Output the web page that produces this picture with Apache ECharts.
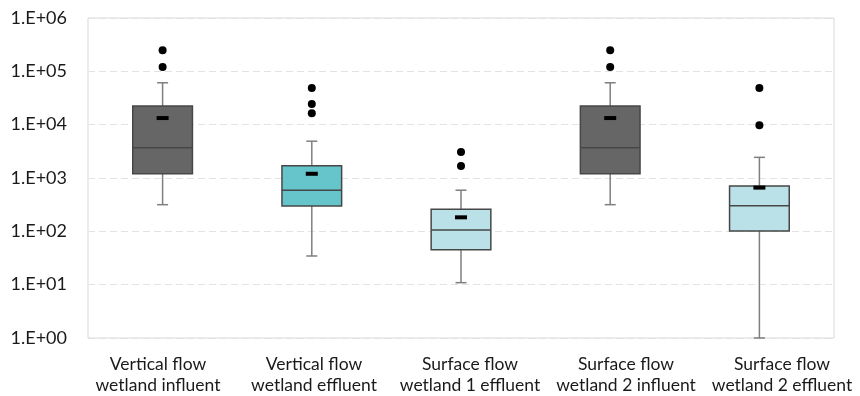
<!DOCTYPE html>
<html>
<head>
<meta charset="utf-8">
<script src="https://cdn.jsdelivr.net/npm/echarts@6/dist/echarts.min.js"></script>
<style>
html,body{margin:0;padding:0;background:#fff;}
#chart{width:860px;height:396px;}
</style>
</head>
<body>
<div id="chart"></div>
<script>
const categories = [
  "Vertical flow\nwetland influent",
  "Vertical flow\nwetland effluent",
  "Surface flow\nwetland 1 effluent",
  "Surface flow\nwetland 2 influent",
  "Surface flow\nwetland 2 effluent"
];
const whiskerLow  = [316, 34.5, 10.9, 316, 1];
const quartile1   = [1200, 300, 45, 1200, 101];
const medians     = [3700, 590, 106, 3700, 303];
const quartile3   = [22400, 1700, 259, 22400, 708];
const whiskerHigh = [61000, 4900, 590, 61000, 2440];
const means       = [13300, 1200, 183, 13300, 660];
const outliers    = [
  [0, 248000], [0, 120000],
  [1, 48700], [1, 24400], [1, 16300],
  [2, 3070], [2, 1680],
  [3, 248000], [3, 120000],
  [4, 48700], [4, 9700]
];
const boxColors = ["#666666", "#66C4CB", "#BAE1E7", "#666666", "#BAE1E7"];

const boxData = categories.map((c, i) => [i, whiskerLow[i], quartile1[i], medians[i], quartile3[i], whiskerHigh[i]]);

const chart = echarts.init(document.getElementById('chart'));
const FONT = 'Lato';
chart.setOption({
  animation: false,
  backgroundColor: '#ffffff',
  grid: [
    { left: 88, right: 26, top: 18, bottom: 58, show: true, borderColor: '#d9d9d9', borderWidth: 1 },
    { left: 80, right: -7, top: 18, bottom: 58, show: false }
  ],
  xAxis: [
    {
      type: 'category',
      gridIndex: 0,
      data: categories,
      axisLine: { show: false },
      axisTick: { show: false },
      axisLabel: { show: false },
      splitLine: { show: false }
    },
    {
      type: 'category',
      gridIndex: 1,
      data: categories,
      axisLine: { show: false },
      axisTick: { show: false },
      axisLabel: { fontFamily: FONT, fontSize: 17.5, color: '#1a1a1a', lineHeight: 21, margin: 16, interval: 0 },
      splitLine: { show: false }
    }
  ],
  yAxis: [
    {
      type: 'log',
      gridIndex: 0,
      logBase: 10,
      min: 1,
      max: 1000000,
      axisLine: { show: false },
      axisTick: { show: false },
      axisLabel: {
        fontFamily: FONT, fontSize: 18, color: '#1a1a1a', margin: 21,
        formatter: v => {
          const e = Math.round(Math.log10(v));
          return '1.E+' + (e < 10 ? '0' + e : e);
        }
      },
      splitLine: { show: true, lineStyle: { color: '#e3e3e3', type: [7, 4], width: 1 } }
    },
    {
      type: 'value',
      gridIndex: 1,
      show: false,
      splitLine: { show: false }
    }
  ],
  series: [
    {
      type: 'custom',
      xAxisIndex: 0,
      yAxisIndex: 0,
      data: boxData,
      renderItem: function (params, api) {
        const i = api.value(0);
        const pLow = api.coord([i, api.value(1)]);
        const pQ1 = api.coord([i, api.value(2)]);
        const pMed = api.coord([i, api.value(3)]);
        const pQ3 = api.coord([i, api.value(4)]);
        const pHigh = api.coord([i, api.value(5)]);
        const bw = api.size([1, 0])[0] * 0.4;
        const cap = 11;
        const x = pQ1[0];
        const whiskerStyle = { stroke: '#7f7f7f', lineWidth: 1.5 };
        const borderStyle = { stroke: '#474747', lineWidth: 1.5 };
        return {
          type: 'group',
          children: [
            { type: 'line', shape: { x1: x, y1: pQ3[1], x2: x, y2: pHigh[1] }, style: whiskerStyle },
            { type: 'line', shape: { x1: x - cap / 2, y1: pHigh[1], x2: x + cap / 2, y2: pHigh[1] }, style: whiskerStyle },
            { type: 'line', shape: { x1: x, y1: pQ1[1], x2: x, y2: pLow[1] }, style: whiskerStyle },
            { type: 'line', shape: { x1: x - cap / 2, y1: pLow[1], x2: x + cap / 2, y2: pLow[1] }, style: whiskerStyle },
            { type: 'rect', shape: { x: x - bw / 2, y: pQ3[1], width: bw, height: pQ1[1] - pQ3[1] },
              style: Object.assign({ fill: boxColors[i] }, borderStyle) },
            { type: 'line', shape: { x1: x - bw / 2, y1: pMed[1], x2: x + bw / 2, y2: pMed[1] }, style: borderStyle }
          ]
        };
      }
    },
    {
      type: 'scatter',
      xAxisIndex: 0,
      yAxisIndex: 0,
      data: outliers,
      symbol: 'circle',
      symbolSize: 8,
      itemStyle: { color: '#000000', opacity: 1 }
    },
    {
      type: 'scatter',
      xAxisIndex: 0,
      yAxisIndex: 0,
      data: means.map((m, i) => [i, m]),
      symbol: 'rect',
      symbolSize: [12, 4],
      itemStyle: { color: '#000000', opacity: 1 }
    }
  ]
});
</script>
</body>
</html>
